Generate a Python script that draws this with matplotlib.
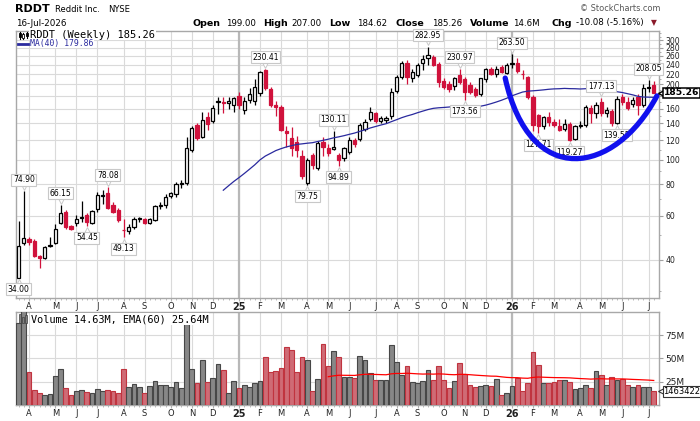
import numpy as np
import pandas as pd
import matplotlib
matplotlib.use("Agg")
import matplotlib.pyplot as plt
from matplotlib.path import Path
from matplotlib.patches import PathPatch, Rectangle
from matplotlib.lines import Line2D
from matplotlib.ticker import NullFormatter
from matplotlib.transforms import offset_copy, blended_transform_factory

plt.rcParams['font.family'] = ['DejaVu Sans']

# weekly bars, RDDT
weeks = pd.date_range("2024-03-18", periods=122, freq="W-MON")

opens = [34.0, 46.6, 48.3, 47.7, 41.5, 40.6, 45.6, 46.6, 56.0, 62.0,
         54.5, 56.0, 58.7, 60.4, 56.3, 63.8, 71.8, 74.0, 66.0, 63.0,
         52.8, 51.9, 54.2, 58.3, 58.3, 56.3, 57.8, 65.5, 66.0, 72.0,
         73.2, 80.0, 80.7, 110.0, 137.5, 124.0, 148.7, 142.4, 170.0, 170.0,
         168.0, 166.0, 180.5, 158.0, 174.0, 172.0, 185.0, 228.0, 192.0, 166.0,
         163.0, 130.0, 122.0, 118.0, 104.0, 81.0, 104.7, 92.7, 118.3, 112.0,
         111.0, 104.7, 101.5, 108.0, 120.5, 121.0, 132.5, 145.4, 153.4, 143.5,
         144.0, 149.0, 189.0, 215.0, 243.0, 211.5, 218.0, 243.0, 254.0, 258.0,
         242.0, 206.0, 200.0, 198.0, 218.0, 211.0, 199.0, 192.0, 184.0, 209.5,
         230.0, 219.5, 235.0, 223.0, 242.0, 244.0, 221.0, 214.0, 179.0, 151.0,
         136.5, 148.0, 142.0, 136.0, 132.5, 138.7, 121.0, 136.5, 138.0, 160.5,
         153.4, 170.6, 153.4, 156.0, 141.0, 179.0, 170.6, 167.0, 179.0, 165.6,
         193.0, 199.0]
highs = [57.0, 74.9, 49.5, 48.5, 41.8, 45.5, 49.3, 55.4, 66.15, 63.0,
         55.0, 60.5, 68.5, 61.5, 63.2, 74.3, 76.0, 78.08, 68.0, 64.2,
         58.3, 55.5, 59.0, 59.5, 58.8, 58.5, 66.0, 67.8, 73.5, 74.5,
         82.0, 83.5, 123.0, 137.0, 140.0, 155.0, 155.0, 166.0, 179.0, 178.0,
         179.0, 179.0, 187.0, 179.0, 193.0, 210.0, 226.0, 230.41, 195.0, 171.0,
         165.0, 137.0, 135.0, 125.0, 110.0, 102.0, 107.0, 119.0, 124.0, 116.0,
         130.11, 107.0, 113.0, 123.0, 122.0, 141.0, 145.0, 162.0, 155.0, 150.0,
         150.0, 193.0, 218.0, 247.0, 250.0, 230.0, 243.0, 262.0, 282.95, 262.0,
         246.0, 212.0, 206.0, 214.0, 230.97, 214.0, 205.0, 196.0, 213.0, 232.0,
         235.0, 236.0, 240.0, 243.0, 263.5, 256.0, 229.0, 216.0, 182.0, 153.0,
         150.0, 155.0, 145.0, 146.0, 145.0, 142.0, 138.0, 143.0, 165.0, 165.0,
         170.0, 177.13, 162.0, 160.0, 180.0, 183.0, 178.0, 178.0, 184.0, 200.0,
         208.05, 207.0]
lows = [34.0, 45.9, 45.9, 41.0, 37.0, 40.2, 45.0, 46.2, 55.5, 53.3,
        52.8, 54.8, 56.7, 54.45, 55.8, 62.0, 67.0, 64.0, 61.5, 56.5,
        49.13, 50.5, 53.0, 56.5, 55.8, 55.5, 57.0, 63.8, 64.5, 70.5,
        71.5, 77.5, 79.5, 108.0, 120.0, 122.0, 132.0, 140.0, 152.0, 154.0,
        160.0, 155.0, 160.0, 152.0, 168.0, 165.0, 180.0, 190.0, 162.0, 149.0,
        130.0, 113.0, 104.0, 103.0, 84.0, 79.75, 92.0, 91.0, 104.0, 104.0,
        110.0, 94.89, 99.0, 106.0, 113.0, 119.0, 130.0, 143.0, 140.0, 141.0,
        141.0, 146.0, 185.0, 210.0, 200.0, 205.0, 215.0, 228.0, 240.0, 237.0,
        195.0, 192.0, 186.0, 190.0, 200.0, 173.56, 183.0, 178.0, 180.0, 205.0,
        219.0, 215.0, 223.0, 220.0, 232.0, 222.0, 211.0, 175.0, 130.0, 127.71,
        133.0, 136.0, 135.0, 130.0, 130.0, 119.27, 120.0, 134.0, 135.0, 140.0,
        147.0, 150.0, 148.0, 136.0, 139.55, 165.0, 158.0, 163.0, 151.0, 163.0,
        186.0, 184.62]
closes = [45.2, 48.8, 46.9, 41.5, 40.6, 45.0, 46.0, 53.0, 61.7, 54.0,
          53.3, 58.3, 59.5, 56.5, 62.6, 72.4, 72.8, 64.5, 62.2, 57.9,
          52.4, 54.2, 58.1, 58.8, 56.3, 58.1, 65.5, 66.4, 71.4, 73.7,
          80.2, 80.9, 111.3, 133.8, 122.0, 144.7, 139.0, 160.7, 171.5, 168.4,
          172.0, 176.0, 166.0, 172.0, 182.5, 196.0, 224.0, 194.0, 166.0, 163.0,
          132.0, 128.0, 112.0, 110.0, 86.0, 100.0, 95.5, 116.5, 113.0, 107.0,
          113.0, 100.0, 111.3, 120.5, 115.5, 137.8, 142.0, 155.8, 143.3, 147.0,
          147.5, 187.0, 214.6, 244.0, 215.0, 225.0, 239.0, 252.0, 262.0, 239.0,
          205.0, 196.0, 191.0, 211.5, 205.0, 187.0, 186.0, 182.0, 211.5, 229.5,
          221.0, 229.5, 225.0, 239.0, 244.0, 227.0, 220.0, 179.0, 138.0, 136.5,
          148.0, 142.0, 138.0, 131.7, 138.7, 120.5, 136.0, 138.0, 162.0, 153.4,
          165.6, 153.4, 158.0, 140.0, 174.5, 170.6, 160.5, 173.0, 165.6, 193.0,
          195.34, 185.26]
# millions of shares
volumes = [88, 110, 35, 16, 13, 10.7, 11.4, 30.7, 39, 17.9,
           10.7, 14.6, 16, 13.4, 12.5, 17, 14.6, 15.7, 14.6, 12.5,
           38.2, 19, 22, 19.6, 12.5, 20, 25.7, 21, 21.4, 19.6,
           24.3, 17.9, 87, 38.2, 23.2, 47.9, 24.6, 28.6, 44, 37.5,
           12.5, 25.7, 17.9, 21, 19.6, 23.2, 25.7, 51.8, 35.4, 36.4,
           39.3, 61.8, 59, 35.4, 51.8, 48.2, 15.2, 27.9, 65, 41.8,
           57.9, 51, 30.4, 30, 29.3, 53, 48.2, 34, 27, 27,
           27, 64.3, 46, 32.1, 41.8, 24.6, 23.2, 25.7, 37.5, 27,
           41.8, 27, 18.6, 25.7, 44.6, 32.8, 21, 19, 20.4, 21.4,
           20.4, 27.9, 11, 12.5, 20.4, 28.6, 15, 23.2, 56.6, 43,
           23.2, 23.2, 24.3, 27, 27, 24.3, 17.1, 17.9, 21, 17.9,
           36.4, 31.8, 21, 29.6, 27, 27.9, 21, 19, 21, 19,
           19, 14.63]

peak_bars = [1, 8, 17, 47, 60, 78, 84, 94, 111, 120]
trough_bars = [0, 13, 20, 55, 61, 85, 99, 105, 114]

# hand-drawn cup annotation: bezier anchors (week index, price)
cup_x = [92.7, 97.4, 113.6, 121.6]
cup_y = [212, 76, 87, 180]

price_ticks = [40, 60, 80, 100, 120, 140, 160, 180, 200, 220, 240, 260, 280, 300]
vol_ticks = [25, 50, 75]

RED = '#d0123c'
NAVY = '#2a2a9e'
GRID = '#dadada'

W, H = 700, 421


def fx(x):
    return x / W


def fy(y):
    return 1 - y / H


fig = plt.figure(figsize=(W / 100, H / 100), dpi=100)
L, R = 15.7, 659
ax = fig.add_axes([fx(L), fy(298.3), fx(R) - fx(L), fy(31) - fy(298.3)])
axv = fig.add_axes([fx(L), fy(405), fx(R) - fx(L), fy(311.7) - fy(405)])

n = len(closes)
idx = np.arange(n)
o = np.array(opens)
h = np.array(highs)
l = np.array(lows)
c = np.array(closes)
v = np.array(volumes)
prev = np.r_[c[0], c[:-1]]
down = c < prev
cols = np.where(down, RED, 'black')
faces = np.where(c < o, cols, 'white')
lo = np.minimum(o, c)
hi = np.maximum(o, c)

# candles
ax.vlines(idx, l, h, colors=cols, lw=0.9, zorder=3)
ax.bar(idx, hi - lo, bottom=lo, width=0.62, color=faces, edgecolor=cols, lw=0.9, zorder=4)

ma = pd.Series(c).rolling(40).mean()
ax.plot(idx, ma, color=NAVY, lw=0.9, zorder=5)

ax.set_yscale('log')
ax.set_ylim(28.1, 326.5)
for a in (ax, axv):
    a.set_xlim(-0.55, 122.0)

# month ticks
month_idx = [i for i in range(1, n) if weeks[i].month != weeks[i - 1].month]
month_lab = [weeks[i].strftime('%y') if weeks[i].month == 1 else weeks[i].strftime('%b')[0]
             for i in month_idx]
for a in (ax, axv):
    a.set_xticks(month_idx)
    a.set_xticklabels(month_lab)
    a.set_xticks(idx, minor=True)
    a.tick_params(axis='x', which='major', length=2, pad=1, labelsize=6, colors='#222222')
    a.tick_params(axis='x', which='minor', length=1.5)
    a.tick_params(axis='x', which='both', color='#b0b0b0')
    for lbl, m in zip(a.get_xticklabels(), month_idx):
        if weeks[m].month == 1:
            lbl.set_fontweight('bold')
            lbl.set_fontsize(7)
    a.grid(True, which='major', color=GRID, lw=0.8)
    a.set_axisbelow(True)
    for m in month_idx:
        if weeks[m].month == 1:
            a.axvline(m, color='#b8b8b8', lw=1.6, zorder=0.6)
    for s in a.spines.values():
        s.set_color('#a8a8a8')
        s.set_linewidth(1)
    a.yaxis.tick_right()

ax.set_yticks(price_ticks)
ax.set_yticklabels(['' if t == 180 else str(t) for t in price_ticks])
minor_p = [t for t in range(30, 330, 10) if t not in price_ticks]
ax.set_yticks(minor_p, minor=True)
ax.yaxis.set_minor_formatter(NullFormatter())
ax.tick_params(axis='y', which='major', length=3, pad=1.5, labelsize=5.6, colors='#222222')
ax.tick_params(axis='y', which='minor', length=1.5)
ax.tick_params(axis='y', which='both', color='#a0a0a0')

# swing labels
for i in peak_bars:
    ax.annotate(f"{highs[i]:.2f}", xy=(i, highs[i]), xytext=(0, 8.3), textcoords='offset points',
                ha='center', va='center', fontsize=5.5, zorder=7,
                bbox=dict(boxstyle='square,pad=0.2', fc='white', ec='#c8c8c8', lw=0.8))
    ax.plot(i, highs[i], marker='v', ms=4, mfc='white', mec='#c8c8c8', mew=0.7, clip_on=False,
            transform=offset_copy(ax.transData, fig=fig, x=0, y=3, units='points'), zorder=6)
for i in trough_bars:
    ax.annotate(f"{lows[i]:.2f}", xy=(i, lows[i]), xytext=(0, -8.3), textcoords='offset points',
                ha='center', va='center', fontsize=5.5, zorder=7,
                bbox=dict(boxstyle='square,pad=0.2', fc='white', ec='#c8c8c8', lw=0.8))
    ax.plot(i, lows[i], marker='^', ms=4, mfc='white', mec='#c8c8c8', mew=0.7, clip_on=False,
            transform=offset_copy(ax.transData, fig=fig, x=0, y=-3, units='points'), zorder=6)

# cup drawing
cup = Path(list(zip(cup_x, cup_y)), [Path.MOVETO, Path.CURVE4, Path.CURVE4, Path.CURVE4])
ax.add_patch(PathPatch(cup, fill=False, ec='#1010ee', lw=3.8, capstyle='round', zorder=9, clip_on=False))

# last price tag
tr = blended_transform_factory(ax.transAxes, ax.transData)
ax.text(1.0, c[-1], f"{c[-1]:.2f}", transform=offset_copy(tr, fig=fig, x=4.5, y=0, units='dots'),
        ha='left', va='center', fontsize=6.6, fontweight='bold', clip_on=False, zorder=11,
        bbox=dict(boxstyle='square,pad=0.08', fc='white', ec='black', lw=1.1))
ax.plot([1.0], [c[-1]], marker='<', ms=5, mfc='white', mec='black', mew=1, clip_on=False,
        transform=offset_copy(tr, fig=fig, x=1.5, y=0, units='dots'), zorder=10)

# volume panel
vface = np.where(down, '#cf6b75', '#878787')
vedge = np.where(down, '#c0343f', '#474747')
axv.bar(idx, v, width=0.9, color=vface, edgecolor=vedge, lw=0.8, zorder=3)
ema = np.full(n, np.nan)
ema[59] = v[:60].mean()
k = 2 / 61
for i in range(60, n):
    ema[i] = v[i] * k + ema[i - 1] * (1 - k)
axv.plot(idx, ema, color='#ff0000', lw=0.9, zorder=4)
axv.set_ylim(0, 100)
axv.set_yticks(vol_ticks)
axv.set_yticklabels([f"{t}M" for t in vol_ticks])
axv.tick_params(axis='y', length=3, pad=1.5, labelsize=6.5, color='#a0a0a0', colors='#222222')

vtr = blended_transform_factory(axv.transAxes, axv.transData)
axv.text(1.0, v[-1], "14634227", transform=offset_copy(vtr, fig=fig, x=4.5, y=0, units='dots'),
         ha='left', va='center', fontsize=6, clip_on=False, zorder=11,
         bbox=dict(boxstyle='square,pad=0.12', fc='white', ec='#333333', lw=0.8))
axv.plot([1.0], [v[-1]], marker='<', ms=4.5, mfc='white', mec='#333333', mew=0.8, clip_on=False,
         transform=offset_copy(vtr, fig=fig, x=1.5, y=0, units='dots'), zorder=10)

# header
fig.text(fx(15), fy(9.5), "RDDT", fontsize=8, fontweight='bold', va='center', ha='left')
fig.text(fx(55), fy(10), "Reddit Inc.", fontsize=6, va='center', ha='left')
fig.text(fx(108), fy(10), "NYSE", fontsize=6, va='center', ha='left')
fig.text(fx(16), fy(23), weeks[-1].strftime('16-%b-%Y'), fontsize=6.3, va='center', ha='left')
fig.text(fx(660), fy(8.5), "\u00a9 StockCharts.com", fontsize=5.9, color='#555555', va='center', ha='right')

chg = c[-1] - c[-2]
pct = chg / c[-2] * 100
header = [("Open", 192.7, True), (f"{o[-1]:.2f}", 226, False),
          ("High", 263.3, True), (f"{h[-1]:.2f}", 291, False),
          ("Low", 329.3, True), (f"{l[-1]:.2f}", 357.3, False),
          ("Close", 395.7, True), (f"{c[-1]:.2f}", 431.7, False),
          ("Volume", 470, True), (f"{v[-1]:.1f}M", 513.3, False),
          ("Chg", 551.7, True), (f"{chg:.2f} ({pct:.2f}%)", 576, False)]
for txt, x, bold in header:
    fig.text(fx(x), fy(23), txt, fontsize=6.8 if bold else 6.2,
             fontweight='bold' if bold else 'normal', va='center', ha='left')
fig.text(fx(651), fy(23), "\u25bc", fontsize=5.5, color='#8b1a2b', va='center', ha='left')

# legends
fig.text(fx(30), fy(34.5), f"RDDT (Weekly) {c[-1]:.2f}", fontsize=7.5, family='DejaVu Sans Mono',
         va='center', ha='left', bbox=dict(boxstyle='square,pad=0.05', fc='white', ec='none'), zorder=12)
fig.text(fx(30), fy(43.5), "MA(40) 179.86", fontsize=5.9, family='DejaVu Sans Mono', color=NAVY,
         va='center', ha='left', bbox=dict(boxstyle='square,pad=0.05', fc='white', ec='none'), zorder=12)
fig.add_artist(Line2D([fx(18), fx(27.5)], [fy(44), fy(44)], color=NAVY, lw=2, zorder=13))
for xx, y0, y1, b0, b1, filled in [(19.5, 31.5, 38.5, 33, 36.5, True),
                                   (23, 32.5, 38.5, 34, 37.5, False),
                                   (26.5, 31.5, 37.5, 33, 35.5, True)]:
    fig.add_artist(Line2D([fx(xx), fx(xx)], [fy(y0), fy(y1)], color='black', lw=0.8, zorder=13))
    fig.add_artist(Rectangle((fx(xx - 1), fy(b1)), fx(2), fy(b0) - fy(b1),
                             fc='black' if filled else 'white', ec='black', lw=0.6, zorder=13))

fig.text(fx(31), fy(319), "Volume 14.63M, EMA(60) 25.64M", fontsize=7.4, family='DejaVu Sans Mono',
         va='center', ha='left', bbox=dict(boxstyle='square,pad=0.05', fc='white', ec='none'), zorder=12)
for x0, top in [(19.3, 313.5), (22.3, 316.5), (25.3, 314.5)]:
    fig.add_artist(Rectangle((fx(x0), fy(322.5)), fx(2), fy(top) - fy(322.5),
                             fc='#808080', ec='#404040', lw=0.5, zorder=13))

fig.savefig("out.png", dpi=100)
